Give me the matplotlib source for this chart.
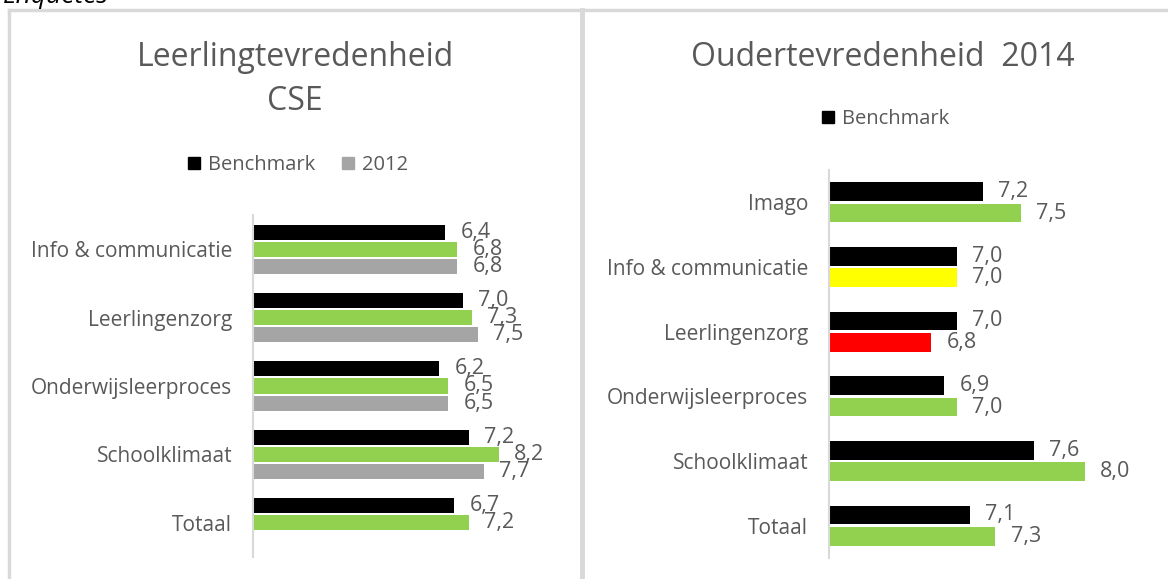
import numpy as np
import matplotlib
matplotlib.use('Agg')
import matplotlib.pyplot as plt
from matplotlib.lines import Line2D
from matplotlib.patches import Patch

plt.rcParams['font.family'] = ['Open Sans', 'DejaVu Sans']

# left chart: leerlingtevredenheid CSE
left_cats = ['Info & communicatie', 'Leerlingenzorg', 'Onderwijsleerproces',
             'Schoolklimaat', 'Totaal']
left_bench = [6.4, 7.0, 6.2, 7.2, 6.7]
left_now = [6.8, 7.3, 6.5, 8.2, 7.2]
left_2012 = [6.8, 7.5, 6.5, 7.7, np.nan]

# right chart: oudertevredenheid 2014
right_cats = ['Imago', 'Info & communicatie', 'Leerlingenzorg',
              'Onderwijsleerproces', 'Schoolklimaat', 'Totaal']
right_bench = [7.2, 7.0, 7.0, 6.9, 7.6, 7.1]
right_now = [7.5, 7.0, 6.8, 7.0, 8.0, 7.3]

BLACK = '#000000'
GREEN = '#92D050'
GRAY = '#A5A5A5'
TXT = '#595959'
right_now_colors = [GREEN, '#FFFF00', '#FF0000', GREEN, GREEN, GREEN]

W, H = 1168, 579
fig = plt.figure(figsize=(W / 100, H / 100), dpi=100)


def fx(px):
    return px / W


def fy(py):
    return 1 - py / H


def fmt(v):
    return ['' if np.isnan(x) else f'{x:.1f}'.replace('.', ',') for x in v]


def style_axes(ax, cats):
    ax.set_yticks(np.arange(len(cats)))
    ax.set_yticklabels(cats, fontsize=15, color=TXT)
    ax.tick_params(axis='y', length=0, pad=15)
    ax.set_xticks([])
    for s in ['top', 'right', 'bottom']:
        ax.spines[s].set_visible(False)
    ax.spines['left'].set_color('#D9D9D9')
    ax.spines['left'].set_linewidth(1.5)
    ax.set_ylim(len(cats) - 0.5, -0.5)


# ---- left panel
ax1 = fig.add_axes([fx(253), fy(557), fx(300), 342 / H])
y = np.arange(len(left_cats))
h = 0.22
b1 = ax1.barh(y - 0.25, left_bench, height=h, color=BLACK)
b2 = ax1.barh(y, left_now, height=h, color=GREEN)
b3 = ax1.barh(y + 0.25, left_2012, height=h, color=GRAY)
for b, v in [(b1, left_bench), (b2, left_now), (b3, left_2012)]:
    ax1.bar_label(b, labels=fmt(v), padding=11, fontsize=15.5, color=TXT)
ax1.set_xlim(0, 10)
style_axes(ax1, left_cats)
ax1.legend(handles=[Patch(color=BLACK, label='Benchmark'),
                    Patch(color=GRAY, label='2012')],
           ncol=2, loc='center', bbox_to_anchor=(fx(298), fy(165)),
           bbox_transform=fig.transFigure, frameon=False, fontsize=14.5,
           handlelength=0.6, handleheight=0.6, handletextpad=0.4,
           columnspacing=1.3, labelcolor=TXT)

fig.text(fx(295), fy(57), 'Leerlingtevredenheid', ha='center', va='center',
         fontsize=23, color=TXT)
fig.text(fx(295), fy(102), 'CSE', ha='center', va='center',
         fontsize=23, color=TXT)

# ---- right panel
ax2 = fig.add_axes([fx(829), fy(558), fx(320), 388 / H])
y = np.arange(len(right_cats))
h = 0.29
c1 = ax2.barh(y - 0.165, right_bench, height=h, color=BLACK)
c2 = ax2.barh(y + 0.165, right_now, height=h, color=right_now_colors)
ax2.bar_label(c1, labels=fmt(right_bench), padding=11, fontsize=15.5, color=TXT)
ax2.bar_label(c2, labels=fmt(right_now), padding=11, fontsize=15.5, color=TXT)
ax2.set_xlim(6, 8.5)
style_axes(ax2, right_cats)
ax2.legend(handles=[Patch(color=BLACK, label='Benchmark')],
           loc='center', bbox_to_anchor=(fx(886), fy(119)),
           bbox_transform=fig.transFigure, frameon=False, fontsize=14.5,
           handlelength=0.6, handleheight=0.6, handletextpad=0.4,
           labelcolor=TXT)

fig.text(fx(883), fy(57), 'Oudertevredenheid  2014', ha='center', va='center',
         fontsize=23, color=TXT)

# panel borders
border = dict(color='#D9D9D9', linewidth=2.5, transform=fig.transFigure)
fig.add_artist(Line2D([fx(9), fx(9)], [fy(10), 0], **border))
fig.add_artist(Line2D([fx(9), 1], [fy(10), fy(10)], **border))
fig.add_artist(Line2D([fx(582), fx(582)], [fy(10), 0],
                      color='#D9D9D9', linewidth=3.5, transform=fig.transFigure))

# cut-off heading above the panels
fig.text(fx(3), fy(3), 'Enquêtes', ha='left', va='baseline',
         fontsize=19, style='italic', color='black')

fig.savefig('out.png', dpi=100)
